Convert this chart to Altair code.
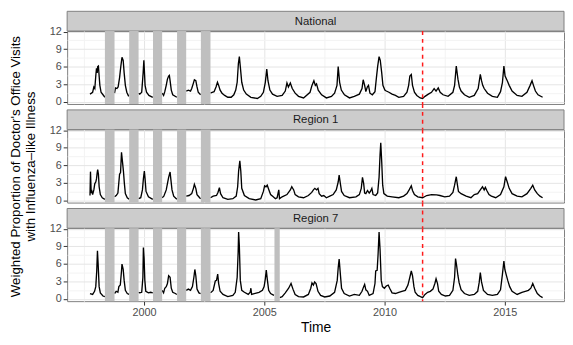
import altair as alt
import pandas as pd

# ---------------- data ----------------
nat_year = [1997.75, 1997.86, 1997.91, 1997.95, 1997.99, 1998.02, 1998.05, 1998.07, 1998.10, 1998.13, 1998.16, 1998.21, 1998.29, 1998.37,
            1998.77, 1998.81, 1998.87, 1998.92, 1998.98, 1999.03, 1999.08, 1999.13, 1999.17, 1999.22, 1999.28, 1999.36,
            1999.77, 1999.82, 1999.90, 1999.96, 1999.99, 2000.01, 2000.04, 2000.10, 2000.20, 2000.36,
            2000.75, 2000.81, 2000.86, 2000.92, 2000.97, 2001.02, 2001.05, 2001.08, 2001.13, 2001.19, 2001.36,
            2001.75, 2001.84, 2001.93, 2001.98, 2002.04, 2002.09, 2002.15, 2002.20, 2002.25, 2002.35,
            2002.76, 2002.83, 2002.91, 2002.99, 2003.05, 2003.10, 2003.16, 2003.24, 2003.35, 2003.48, 2003.62, 2003.73,
            2003.81, 2003.87, 2003.92, 2003.96, 2004.00, 2004.06, 2004.14, 2004.25, 2004.44, 2004.71, 2004.85, 2004.96,
            2005.04, 2005.10, 2005.15, 2005.23, 2005.34, 2005.53, 2005.74, 2005.87, 2005.94, 2006.00, 2006.08, 2006.16,
            2006.28, 2006.42, 2006.63, 2006.90, 2006.98, 2007.06, 2007.12, 2007.17, 2007.24, 2007.38, 2007.58, 2007.79,
            2007.92, 2008.02, 2008.07, 2008.13, 2008.20, 2008.33, 2008.54, 2008.74, 2008.95, 2009.06, 2009.11, 2009.17,
            2009.22, 2009.28, 2009.33, 2009.39, 2009.49, 2009.60, 2009.66, 2009.71, 2009.77, 2009.82, 2009.88, 2009.93,
            2010.01, 2010.07, 2010.18, 2010.31, 2010.45, 2010.59, 2010.79, 2010.93, 2011.00, 2011.05, 2011.11, 2011.16,
            2011.24, 2011.34, 2011.48, 2011.58, 2011.68, 2011.82, 2011.95, 2012.06, 2012.14, 2012.23, 2012.31, 2012.43,
            2012.64, 2012.84, 2012.91, 2012.98, 2013.05, 2013.11, 2013.18, 2013.32, 2013.52, 2013.73, 2013.89, 2013.98,
            2014.03, 2014.08, 2014.14, 2014.28, 2014.48, 2014.69, 2014.82, 2014.90, 2014.96, 2015.01, 2015.10, 2015.18,
            2015.30, 2015.51, 2015.71, 2015.92, 2016.05, 2016.13, 2016.19, 2016.27, 2016.38, 2016.57]
nat_ili = [1.29, 1.61, 2.52, 2.25, 4.39, 5.73, 4.93, 6.00, 6.10, 4.39, 2.79, 1.61, 1.18, 0.75,
           1.45, 2.36, 2.25, 2.52, 4.12, 6.00, 7.60, 7.07, 4.93, 2.79, 1.61, 0.91,
           1.45, 1.29, 1.61, 4.93, 7.07, 5.46, 2.79, 1.61, 1.07, 0.75,
           1.45, 1.07, 1.71, 2.79, 3.86, 4.39, 4.50, 3.59, 1.98, 1.18, 0.75,
           1.82, 1.98, 1.82, 2.25, 3.05, 3.75, 3.59, 2.52, 1.61, 1.18,
           1.45, 1.61, 1.71, 2.52, 3.32, 2.79, 1.98, 1.45, 1.07, 0.75, 0.75, 1.18,
           1.98, 3.32, 6.53, 7.71, 6.00, 3.32, 1.98, 1.29, 0.75, 0.54, 0.91, 1.61,
           3.32, 5.57, 3.59, 1.98, 1.29, 0.91, 1.07, 1.82, 3.21, 2.52, 3.21, 2.25,
           1.45, 0.91, 0.64, 1.61, 2.79, 3.59, 2.79, 3.05, 1.98, 1.18, 0.64, 0.91,
           1.45, 2.79, 6.00, 3.32, 1.98, 1.18, 0.64, 0.91, 1.29, 2.25, 3.75, 2.79,
           1.71, 2.52, 2.79, 1.45, 1.18, 1.71, 4.12, 6.00, 7.71, 7.07, 4.93, 2.79,
           1.98, 1.82, 1.61, 1.29, 1.07, 0.75, 0.91, 1.61, 2.79, 4.39, 4.66, 2.79,
           1.61, 1.07, 0.64, 0.54, 0.91, 1.29, 1.61, 2.25, 1.82, 2.36, 1.61, 1.18,
           0.91, 1.61, 2.79, 6.10, 3.86, 2.52, 1.82, 1.18, 0.75, 1.07, 2.25, 4.66,
           3.59, 2.79, 2.25, 1.45, 0.91, 0.75, 1.71, 3.32, 6.10, 4.39, 3.59, 2.79,
           1.82, 1.07, 0.91, 1.61, 2.79, 3.59, 2.79, 1.82, 1.18, 0.75]

r1_year = [1997.75, 1997.77, 1997.80, 1997.83, 1997.86, 1997.91, 1997.95, 1997.99, 1998.02, 1998.05, 1998.07, 1998.10, 1998.13, 1998.18, 1998.26, 1998.37,
           1998.77, 1998.84, 1998.91, 1998.98, 1999.02, 1999.06, 1999.10, 1999.14, 1999.18, 1999.22, 1999.30, 1999.38,
           1999.77, 1999.86, 1999.93, 1999.97, 2000.01, 2000.04, 2000.08, 2000.18, 2000.36,
           2000.75, 2000.82, 2000.92, 2000.97, 2001.02, 2001.08, 2001.11, 2001.16, 2001.23, 2001.36,
           2001.75, 2001.87, 2001.98, 2002.05, 2002.09, 2002.15, 2002.20, 2002.31, 2002.35,
           2002.76, 2002.87, 2003.01, 2003.07, 2003.13, 2003.18, 2003.28, 2003.48, 2003.69, 2003.83, 2003.89, 2003.93,
           2003.98, 2004.02, 2004.06, 2004.17, 2004.37, 2004.64, 2004.85, 2004.96, 2005.01, 2005.07, 2005.12, 2005.19,
           2005.26, 2005.37, 2005.46, 2005.53, 2005.60, 2005.63, 2005.74, 2005.94, 2006.08, 2006.14, 2006.22, 2006.28,
           2006.42, 2006.63, 2006.83, 2006.97, 2007.04, 2007.10, 2007.17, 2007.23, 2007.28, 2007.38, 2007.47, 2007.58,
           2007.72, 2007.86, 2007.99, 2008.07, 2008.11, 2008.16, 2008.21, 2008.32, 2008.54, 2008.81, 2008.95, 2009.03,
           2009.08, 2009.13, 2009.17, 2009.22, 2009.29, 2009.36, 2009.41, 2009.47, 2009.52, 2009.63, 2009.71, 2009.77,
           2009.81, 2009.84, 2009.88, 2009.92, 2009.97, 2010.11, 2010.31, 2010.59, 2010.79, 2010.93, 2011.02, 2011.11,
           2011.16, 2011.24, 2011.38, 2011.58, 2011.75, 2011.95, 2012.16, 2012.30, 2012.50, 2012.70, 2012.84, 2012.91,
           2012.98, 2013.02, 2013.07, 2013.18, 2013.39, 2013.59, 2013.73, 2013.87, 2013.98, 2014.07, 2014.14, 2014.19,
           2014.25, 2014.34, 2014.44, 2014.62, 2014.82, 2014.96, 2015.03, 2015.10, 2015.18, 2015.30, 2015.51, 2015.71,
           2015.92, 2016.08, 2016.16, 2016.24, 2016.35, 2016.46, 2016.57]
r1_ili = [0.81, 4.90, 1.24, 1.51, 0.97, 1.77, 2.85, 3.12, 3.66, 4.73, 5.27, 4.46, 2.31, 0.97, 0.43, 0.16,
          0.59, 0.81, 1.24, 4.46, 4.73, 8.23, 6.61, 5.00, 2.85, 1.13, 0.43, 0.16,
          0.27, 0.43, 1.77, 3.66, 5.00, 3.66, 1.51, 0.59, 0.16,
          0.43, 0.70, 1.77, 2.85, 3.92, 4.84, 3.66, 1.77, 0.70, 0.16,
          0.70, 0.81, 1.13, 2.04, 2.74, 2.04, 0.97, 0.43, 0.27,
          0.43, 0.70, 0.81, 1.34, 2.15, 1.13, 0.43, 0.16, 0.27, 0.70, 2.31, 5.00,
          6.77, 5.00, 2.04, 0.81, 0.27, 0.05, 0.27, 1.51, 2.47, 2.31, 2.58, 1.77,
          0.97, 0.59, 0.27, 0.43, 1.77, 0.27, 0.59, 0.97, 1.77, 2.31, 1.77, 0.97,
          0.59, 0.43, 0.81, 1.34, 1.77, 2.04, 1.77, 2.04, 1.13, 0.70, 0.81, 0.43,
          0.70, 0.97, 1.77, 3.12, 4.30, 2.85, 1.51, 0.81, 0.43, 0.59, 0.97, 2.04,
          3.92, 2.85, 1.24, 1.13, 1.67, 1.24, 1.51, 2.04, 0.97, 0.81, 1.24, 3.92,
          7.69, 9.84, 6.61, 2.58, 1.13, 0.70, 0.59, 0.43, 0.70, 1.13, 1.77, 2.47,
          1.67, 0.97, 0.59, 0.43, 0.81, 0.97, 0.91, 0.81, 0.59, 0.70, 1.34, 2.58,
          4.03, 2.85, 1.51, 1.13, 0.70, 0.43, 0.97, 1.13, 1.77, 2.31, 1.77, 2.20,
          1.67, 0.97, 0.70, 0.43, 0.97, 2.31, 4.03, 3.12, 2.04, 1.13, 0.70, 0.59,
          1.13, 2.04, 2.58, 1.77, 1.13, 0.70, 0.43]

r7_year = [1997.75, 1997.86, 1997.94, 1997.99, 1998.03, 1998.06, 1998.09, 1998.13, 1998.18, 1998.29, 1998.37,
           1998.77, 1998.84, 1998.91, 1998.95, 1999.01, 1999.06, 1999.08, 1999.13, 1999.17, 1999.22, 1999.30, 1999.38,
           1999.77, 1999.82, 1999.90, 1999.95, 1999.97, 2000.00, 2000.03, 2000.07, 2000.18, 2000.27, 2000.36,
           2000.75, 2000.81, 2000.86, 2000.92, 2000.97, 2001.02, 2001.08, 2001.13, 2001.19, 2001.30, 2001.36,
           2001.75, 2001.84, 2001.93, 2002.01, 2002.07, 2002.11, 2002.15, 2002.20, 2002.28, 2002.35,
           2002.76, 2002.87, 2002.96, 2003.01, 2003.06, 2003.10, 2003.16, 2003.28, 2003.48, 2003.69, 2003.79, 2003.87,
           2003.91, 2003.93, 2003.96, 2004.00, 2004.06, 2004.17, 2004.33, 2004.41, 2004.44, 2004.47, 2004.58, 2004.78,
           2004.92, 2004.99, 2005.04, 2005.08, 2005.12, 2005.18, 2005.26, 2005.40,
           2005.64, 2005.74, 2005.87, 2006.01, 2006.11, 2006.19, 2006.28, 2006.42, 2006.63, 2006.83, 2006.93, 2006.98,
           2007.04, 2007.09, 2007.15, 2007.23, 2007.34, 2007.51, 2007.72, 2007.92, 2008.03, 2008.07, 2008.11, 2008.16,
           2008.21, 2008.32, 2008.54, 2008.74, 2008.95, 2009.06, 2009.13, 2009.17, 2009.22, 2009.29, 2009.36, 2009.52,
           2009.60, 2009.63, 2009.69, 2009.73, 2009.77, 2009.81, 2009.86, 2009.91, 2009.99, 2010.07, 2010.15, 2010.21,
           2010.31, 2010.45, 2010.59, 2010.72, 2010.86, 2010.97, 2011.05, 2011.11, 2011.16, 2011.22, 2011.27, 2011.38,
           2011.49, 2011.58, 2011.68, 2011.79, 2011.90, 2012.01, 2012.09, 2012.14, 2012.20, 2012.25, 2012.36, 2012.53,
           2012.70, 2012.84, 2012.91, 2012.95, 2012.99, 2013.05, 2013.10, 2013.18, 2013.32, 2013.52, 2013.73, 2013.87,
           2013.93, 2013.98, 2014.03, 2014.11, 2014.28, 2014.48, 2014.69, 2014.82, 2014.90, 2014.96, 2015.00, 2015.05,
           2015.12, 2015.20, 2015.30, 2015.51, 2015.71, 2015.85, 2015.98, 2016.08, 2016.16, 2016.24, 2016.35, 2016.46,
           2016.57]
r7_ili = [0.91, 0.75, 1.29, 2.09, 4.77, 8.25, 5.84, 2.09, 1.02, 0.48, 0.37,
          0.91, 1.29, 1.12, 2.09, 2.36, 4.77, 5.95, 5.03, 3.16, 1.45, 0.91, 0.75,
          1.12, 1.02, 1.12, 3.70, 8.78, 6.91, 3.16, 1.29, 1.02, 1.12, 1.02,
          1.45, 1.02, 1.82, 2.09, 2.62, 3.96, 3.70, 1.82, 1.12, 0.91, 0.75,
          1.45, 1.66, 1.45, 2.09, 3.70, 5.03, 3.96, 1.66, 1.02, 0.91,
          1.02, 1.45, 3.05, 3.16, 4.23, 2.62, 1.29, 0.75, 0.37, 0.59, 1.12, 3.70,
          7.98, 11.46, 9.05, 3.16, 1.45, 1.12, 0.75, 1.12, 1.82, 0.75, 0.91, 1.12,
          1.45, 2.09, 3.43, 4.93, 3.43, 1.45, 0.91, 0.59,
          0.21, 0.37, 1.02, 1.82, 2.62, 1.66, 0.75, 0.37, 0.32, 0.75, 1.82, 2.73,
          2.36, 2.89, 2.62, 1.29, 0.59, 0.32, 0.48, 1.12, 3.16, 5.30, 6.80, 4.23,
          1.82, 0.91, 0.48, 0.75, 0.59, 1.29, 2.09, 2.46, 1.55, 1.29, 0.59, 0.91,
          2.62, 4.77, 4.87, 7.71, 11.46, 8.52, 3.16, 2.09, 1.82, 2.20, 2.36, 1.82,
          1.02, 0.91, 1.12, 1.29, 1.45, 2.36, 3.70, 4.77, 3.96, 2.09, 1.12, 0.59,
          0.37, 0.21, 0.75, 1.12, 1.29, 1.66, 2.62, 3.43, 2.62, 1.29, 0.75, 0.48,
          0.59, 1.45, 3.70, 6.91, 5.84, 3.96, 2.73, 1.55, 0.91, 0.59, 0.75, 1.29,
          2.73, 4.50, 2.89, 1.45, 0.75, 0.59, 0.75, 1.55, 4.23, 6.48, 5.03, 4.23,
          3.16, 2.09, 1.29, 0.75, 1.12, 1.29, 1.45, 1.82, 2.62, 1.82, 0.91, 0.48,
          0.21]

regions = ["National", "Region 1", "Region 7"]
# periods without data (grey bands)
gap_start = [1998.37, 1999.38, 2000.37, 2001.37, 2002.36]
gap_end = [1998.77, 1999.77, 2000.75, 2001.75, 2002.76]
extra_gap_start = {"Region 7": [2005.42]}
extra_gap_end = {"Region 7": [2005.64]}
split_year = 2011.58

x_ticks = [1997.5, 2000, 2002.5, 2005, 2007.5, 2010, 2012.5, 2015]
y_ticks = [0, 1.5, 3, 4.5, 6, 7.5, 9, 10.5, 12]

y_title = ["Weighted Proportion of Doctor's Office Visits", "with Influenza\u2013like Illness"]

# ---------------- layout ----------------
W = 504
PH = 74
SH = 20
GAP = 6
XDOM = [1996.8, 2017.46]
YDOM = [-0.4, 12.1]

MAJOR = "#e5e5e5"
MINOR = "#f3f3f3"
BORDER = "#7f7f7f"
RED = "#ff1a1a"


def gaps_for(region):
    s = list(gap_start) + extra_gap_start.get(region, [])
    e = list(gap_end) + extra_gap_end.get(region, [])
    return pd.DataFrame({"year": s, "year2": e})


def series_df(years, vals, gaps):
    seg = 0
    segs = []
    for i, y in enumerate(years):
        if i > 0:
            prev = years[i - 1]
            if any(prev <= s and y >= e for s, e in zip(gaps["year"], gaps["year2"])):
                seg += 1
        segs.append(seg)
    return pd.DataFrame({"year": years, "ili": vals, "seg": segs})


def x_enc(bottom):
    kw = dict(
        values=x_ticks, format="d", grid=True, domain=False,
        labelExpr="datum.value % 5 === 0 ? datum.label : ''",
        gridColor={"condition": {"test": "datum.value % 5 === 0", "value": MAJOR}, "value": MINOR},
    )
    if bottom:
        kw.update(labels=True, ticks=True, title="Time",
                  tickOpacity={"condition": {"test": "datum.value % 5 === 0", "value": 1}, "value": 0},
                  titleFontSize=14, titlePadding=3, labelPadding=2)
    else:
        kw.update(labels=False, ticks=False, title=None)
    return alt.X("year:Q", scale=alt.Scale(domain=XDOM, nice=False, zero=False), axis=alt.Axis(**kw))


def y_enc(with_title):
    kw = dict(
        values=y_ticks, format="d", grid=True, domain=False,
        labelExpr="datum.value % 3 === 0 ? datum.label : ''",
        gridColor={"condition": {"test": "datum.value % 3 === 0", "value": MAJOR}, "value": MINOR},
        tickOpacity={"condition": {"test": "datum.value % 3 === 0", "value": 1}, "value": 0},
        labelPadding=2,
    )
    if with_title:
        kw.update(title=y_title, titleFontSize=13.5, titleLineHeight=15, titlePadding=12)
    else:
        kw.update(title=None)
    return alt.Y("ili:Q", scale=alt.Scale(domain=YDOM, nice=False, zero=False), axis=alt.Axis(**kw))


def panel(region, years, vals, bottom, with_title):
    gaps = gaps_for(region)
    df = series_df(years, vals, gaps)
    xe = x_enc(bottom)
    line = alt.Chart(df).mark_line(color="black", strokeWidth=1.35).encode(
        x=xe, y=y_enc(with_title), detail="seg:N")
    bands = alt.Chart(gaps).mark_rect(color="#bfbfbf").encode(
        x=xe, x2="year2:Q", y=alt.value(0), y2=alt.value(PH))
    rule = alt.Chart(pd.DataFrame({"year": [split_year]})).mark_rule(
        color=RED, strokeDash=[4, 4], strokeWidth=1.5).encode(
        x=xe, y=alt.value(0), y2=alt.value(PH))
    return alt.layer(line, bands, rule).properties(width=W, height=PH)


def strip(region, gap):
    H = SH + gap
    base = alt.Chart(pd.DataFrame({"label": [region], "year": [split_year]}))
    rect = base.mark_rect(fill="#cccccc", stroke=BORDER, strokeWidth=1).encode(
        x=alt.value(0), x2=alt.value(W), y=alt.value(gap), y2=alt.value(H))
    text = base.mark_text(fontSize=11.5, color="#1a1a1a", baseline="middle", align="center").encode(
        x=alt.value(W / 2), y=alt.value(gap + SH / 2 + 0.5), text="label:N")
    layers = [rect, text]
    if gap:
        rule = base.mark_rule(color=RED, strokeDash=[4, 4], strokeWidth=1.5).encode(
            x=alt.X("year:Q", scale=alt.Scale(domain=XDOM, nice=False, zero=False), axis=None),
            y=alt.value(0), y2=alt.value(H))
        layers.append(rule)
    return alt.layer(*layers).properties(
        width=W, height=H, view=alt.ViewBackground(stroke="transparent"))


chart = alt.vconcat(
    strip("National", 0),
    panel("National", nat_year, nat_ili, False, False),
    strip("Region 1", GAP),
    panel("Region 1", r1_year, r1_ili, False, True),
    strip("Region 7", GAP),
    panel("Region 7", r7_year, r7_ili, True, False),
    spacing=0, bounds="flush",
).properties(padding=0).configure(
    font="Liberation Sans"
).configure_view(
    stroke=BORDER, strokeWidth=1
).configure_axis(
    labelFontSize=11, labelColor="#4d4d4d", tickColor="#333333", tickSize=4,
    titleFontWeight="normal", titleColor="black", labelFont="Liberation Sans", titleFont="Liberation Sans",
)

chart.save("out.html", embed_options={"renderer": "svg", "actions": False})
